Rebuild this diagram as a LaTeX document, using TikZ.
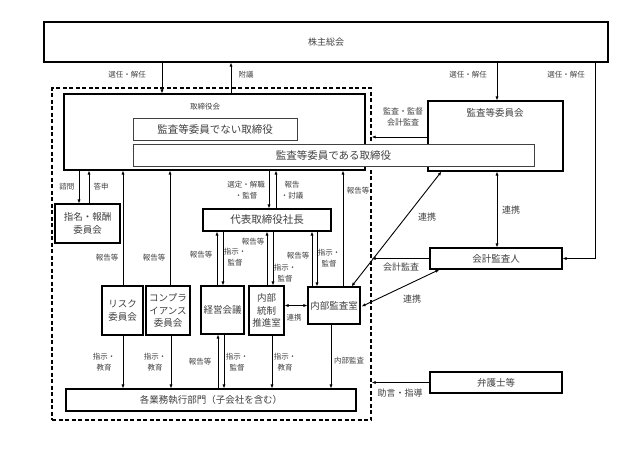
\documentclass[tikz,border=0pt]{standalone}
\usepackage{fontspec}
\setmainfont{Noto Sans CJK JP}
\usetikzlibrary{arrows.meta,calc}

\tikzset{
  blk/.style={draw, line width=1.1pt, fill=white, inner sep=0pt, align=center,
    text=black!75, font=\fontsize{9.5}{12.5}\selectfont},
  thinblk/.style={blk, line width=0.6pt, draw=black!75, font=\fontsize{10.5}{12}\selectfont},
  dashframe/.style={draw, dashed, line width=1.3pt, dash pattern=on 4pt off 2.5pt, inner sep=0pt},
  lbl/.style={inner sep=0pt, align=center, text=black!75, font=\fontsize{7.5}{11}\selectfont},
  biglbl/.style={lbl, font=\fontsize{9}{11}\selectfont},
  arr/.style={line width=0.9pt, -{Latex[length=4pt,width=3.2pt]}},
  darr/.style={line width=0.9pt, {Latex[length=4pt,width=3.2pt]}-{Latex[length=4pt,width=3.2pt]}}
}

\begin{document}
\begin{tikzpicture}[x=1pt, y=-1pt]
\useasboundingbox (0,0) rectangle (633,453);

% boxes
\node[blk, minimum width=564, minimum height=40, font=\fontsize{9}{11}\selectfont] (kabu) at (326,42) {株主総会};
\node[dashframe, minimum width=319, minimum height=332] (frame) at (211.5,254) {};
\node[blk, minimum width=301, minimum height=76] (tori) at (214.5,132) {};
\node[lbl] (toritxt) at (205,107) {取締役会};
\node[thinblk, minimum width=164, minimum height=22] (nai) at (215,129) {監査等委員でない取締役};
\node[blk, minimum width=135, minimum height=70] (kansa) at (495.5,136) {};
\node[lbl, font=\fontsize{9.5}{11}\selectfont] (kansatxt) at (495,113) {監査等委員会};
\node[thinblk, minimum width=401, minimum height=22] (aru) at (333.5,155) {監査等委員である取締役};
\node[blk, minimum width=132, minimum height=21] (kaikei) at (496,258.5) {会計監査人};
\node[blk, minimum width=132, minimum height=21] (bengo) at (496,382.5) {弁護士等};
\node[blk, minimum width=65, minimum height=39] (shimei) at (87.5,223.5) {指名・報酬\\委員会};
\node[blk, minimum width=128, minimum height=22, font=\fontsize{10.5}{12}\selectfont] (daihyo) at (267,220) {代表取締役社長};
\node[blk, minimum width=41, minimum height=49] (risk) at (122.5,310.5) {リスク\\委員会};
\node[blk, minimum width=44, minimum height=49] (comp) at (168,310.5) {コンプラ\\イアンス\\委員会};
\node[blk, minimum width=43, minimum height=48] (keiei) at (222.5,310) {経営会議};
\node[blk, minimum width=35, minimum height=49] (tousei) at (266.5,310.5) {内部\\統制\\推進室};
\node[blk, minimum width=52, minimum height=37] (naibu) at (334,305.5) {内部監査室};
\node[blk, minimum width=290, minimum height=22] (gyomu) at (211,400) {各業務執行部門（子会社を含む）};

% 株主総会
\draw[arr] (162,0 |- kabu.south) -- (162,0 |- tori.north);
\draw[arr] (231,0 |- tori.north) -- (231,0 |- kabu.south);
\draw[arr] (497,0 |- kabu.south) -- (497,0 |- kansa.north);
\draw[arr] (595,0 |- kabu.south) |- (kaikei.east);
\node[lbl] (l1) at (127,75) {選任・解任};
\node[lbl] (l2) at (246,75) {附議};
\node[lbl] (l3) at (468,75) {選任・解任};
\node[lbl] (l4) at (566,75) {選任・解任};

% 取締役会
\draw[arr] (79,0 |- tori.south) -- (79,0 |- shimei.north);
\draw[arr] (89,0 |- shimei.north) -- (89,0 |- tori.south);
\node[lbl] (l5) at (67,187) {諮問};
\node[lbl] (l6) at (101,187) {答申};
\draw[arr] (123,0 |- risk.north) -- (123,0 |- tori.south);
\draw[arr] (170,0 |- comp.north) -- (170,0 |- tori.south);
\node[lbl] (l7) at (107,258) {報告等};
\node[lbl] (l8) at (154,258) {報告等};
\draw[arr] (269,0 |- tori.south) -- (269,0 |- daihyo.north);
\draw[arr] (276,0 |- daihyo.north) -- (276,0 |- tori.south);
\node[lbl] (l9) at (246,190) {選定・解職\\・監督};
\node[lbl] (l10) at (292,190) {報告\\・討議};
\draw[arr] (343,0 |- naibu.north) -- (343,0 |- tori.south);
\node[lbl] (l11) at (358,191) {報告等};

% 代表取締役社長
\draw[arr] (217,0 |- keiei.north) -- (217,0 |- daihyo.south);
\draw[arr] (223,0 |- daihyo.south) -- (223,0 |- keiei.north);
\node[lbl] (l12) at (201,255) {報告等};
\node[lbl] (l13) at (235,257) {指示・\\監督};
\draw[arr] (267,0 |- tousei.north) -- (267,0 |- daihyo.south);
\draw[arr] (273,0 |- daihyo.south) -- (273,0 |- tousei.north);
\node[lbl] (l14) at (253,242) {報告等};
\node[lbl] (l15) at (285,273) {指示・\\監督};
\draw[arr] (312,0 |- naibu.north) -- (312,0 |- daihyo.south);
\draw[arr] (317,0 |- daihyo.south) -- (317,0 |- naibu.north);
\node[lbl] (l16) at (298,256) {報告等};
\node[lbl] (l17) at (329,258) {指示・\\監督};
\draw[darr] (tousei.east |- naibu.east) -- (naibu.west);
\node[lbl] (l18) at (294,318) {連携};

% 各業務執行部門
\draw[arr] (123,0 |- risk.south) -- (123,0 |- gyomu.north);
\draw[arr] (171,0 |- comp.south) -- (171,0 |- gyomu.north);
\draw[arr] (218,0 |- gyomu.north) -- (218,0 |- keiei.south);
\draw[arr] (224,0 |- keiei.south) -- (224,0 |- gyomu.north);
\draw[arr] (272,0 |- tousei.south) -- (272,0 |- gyomu.north);
\draw[arr] (331,0 |- naibu.south) -- (331,0 |- gyomu.north);
\node[lbl] (l19) at (104,362) {指示・\\教育};
\node[lbl] (l20) at (155,362) {指示・\\教育};
\node[lbl] (l21) at (200,362) {報告等};
\node[lbl] (l22) at (237,362) {指示・\\監督};
\node[lbl] (l23) at (285,362) {指示・\\教育};
\node[lbl] (l24) at (349,361) {内部監査};

% 監査等委員会・会計監査人・弁護士等
\draw[arr] (kansa.west |- 0,137) -- (frame.east |- 0,137);
\node[lbl, font=\fontsize{8}{11}\selectfont] (l25) at (403,117) {監査・監督\\会計監査};
\draw[darr] (497,0 |- kansa.south) -- (497,0 |- kaikei.north);
\node[biglbl] (l26) at (511,210) {連携};
\draw[arr] (kaikei.west) -- (frame.east |- kaikei.west);
\node[biglbl] (l27) at (401,267) {会計監査};
\draw[darr] ($(kansa.south west)+(14,0)$) -- ($(naibu.north east)+(-9,0)$);
\node[biglbl] (l28) at (427,217) {連携};
\draw[darr] ($(kaikei.south west)+(10,0)$) -- ($(naibu.east)+(1,1)$);
\node[biglbl] (l29) at (412,299) {連携};
\draw[arr] (bengo.west) -- (frame.east |- bengo.west);
\node[biglbl] (l30) at (400,393) {助言・指導};

\end{tikzpicture}
\end{document}
